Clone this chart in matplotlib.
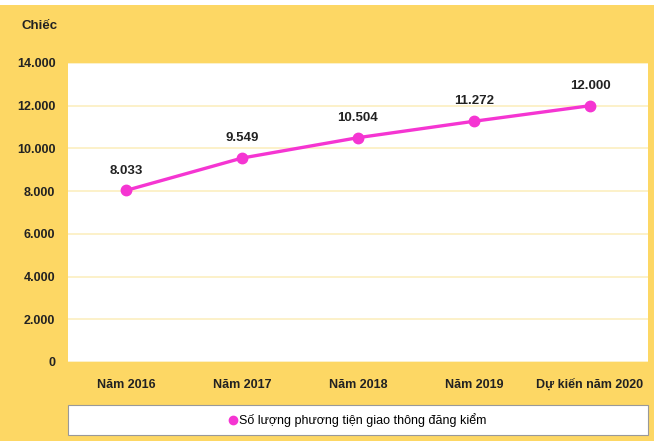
import matplotlib
matplotlib.use('Agg')
import matplotlib.pyplot as plt
from matplotlib.patches import Rectangle

# Dữ liệu
categories = ['Năm 2016', 'Năm 2017', 'Năm 2018', 'Năm 2019', 'Dự kiến năm 2020']
values = [8033, 9549, 10504, 11272, 12000]
value_labels = ['8.033', '9.549', '10.504', '11.272', '12.000']
y_ticks = [0, 2000, 4000, 6000, 8000, 10000, 12000, 14000]
y_tick_labels = ['0', '2.000', '4.000', '6.000', '8.000', '10.000', '12.000', '14.000']
series_name = 'Số lượng phương tiện giao thông đăng kiểm'

plt.rcParams['font.family'] = ['Liberation Sans', 'DejaVu Sans']

bg = '#FDD764'
line_color = '#F535D2'

fig = plt.figure(figsize=(6.54, 4.41), dpi=100)
fig.patch.set_facecolor(bg)
# dải trắng phía trên
fig.patches.append(Rectangle((0, 1 - 5/441), 1, 5/441, transform=fig.transFigure,
                             facecolor='white', edgecolor='none', zorder=0))

ax = fig.add_axes([68/654, 79/441, 580/654, 299/441])
ax.set_facecolor('white')
x = list(range(len(categories)))
ax.plot(x, values, color=line_color, linewidth=2.4, marker='o', markersize=7.5,
        markeredgecolor=line_color, zorder=3)
for xi, v, lab in zip(x, values, value_labels):
    ax.annotate(lab, (xi, v), xytext=(0, 10), textcoords='offset points',
                ha='center', va='bottom', fontsize=9.5, fontweight='bold', color='#222222')

ax.set_xlim(-0.5, len(categories) - 0.5)
ax.set_ylim(0, 14000)
ax.set_yticks(y_ticks)
ax.set_yticklabels(y_tick_labels, fontsize=9, fontweight='bold', color='#222222')
ax.set_xticks(x)
ax.set_xticklabels(categories, fontsize=9, fontweight='bold', color='#222222')
ax.tick_params(length=0, pad=9)
ax.tick_params(axis='x', pad=12)
ax.grid(axis='y', color='#FCEFC0', linewidth=1.2)
ax.set_axisbelow(True)
for s in ax.spines.values():
    s.set_visible(False)

fig.text(22/654, 1 - 26/441, 'Chiếc', fontsize=9.5, fontweight='bold', color='#222222',
         va='center', ha='left')

# khung chú thích
fig.patches.append(Rectangle((68/654, 6/441), 580/654, 30/441, transform=fig.transFigure,
                             facecolor='white', edgecolor='#999999', linewidth=0.8, zorder=1))
leg = fig.legend([ax.lines[0]], [series_name], loc='center',
                 bbox_to_anchor=(358/654, 21/441), bbox_transform=fig.transFigure,
                 frameon=False, fontsize=9, handlelength=0.6, handletextpad=0.2,
                 borderaxespad=0, markerscale=0.8)
for h in leg.legend_handles:
    h.set_linestyle('none')

fig.savefig('out.png', dpi=100, facecolor=fig.get_facecolor())
